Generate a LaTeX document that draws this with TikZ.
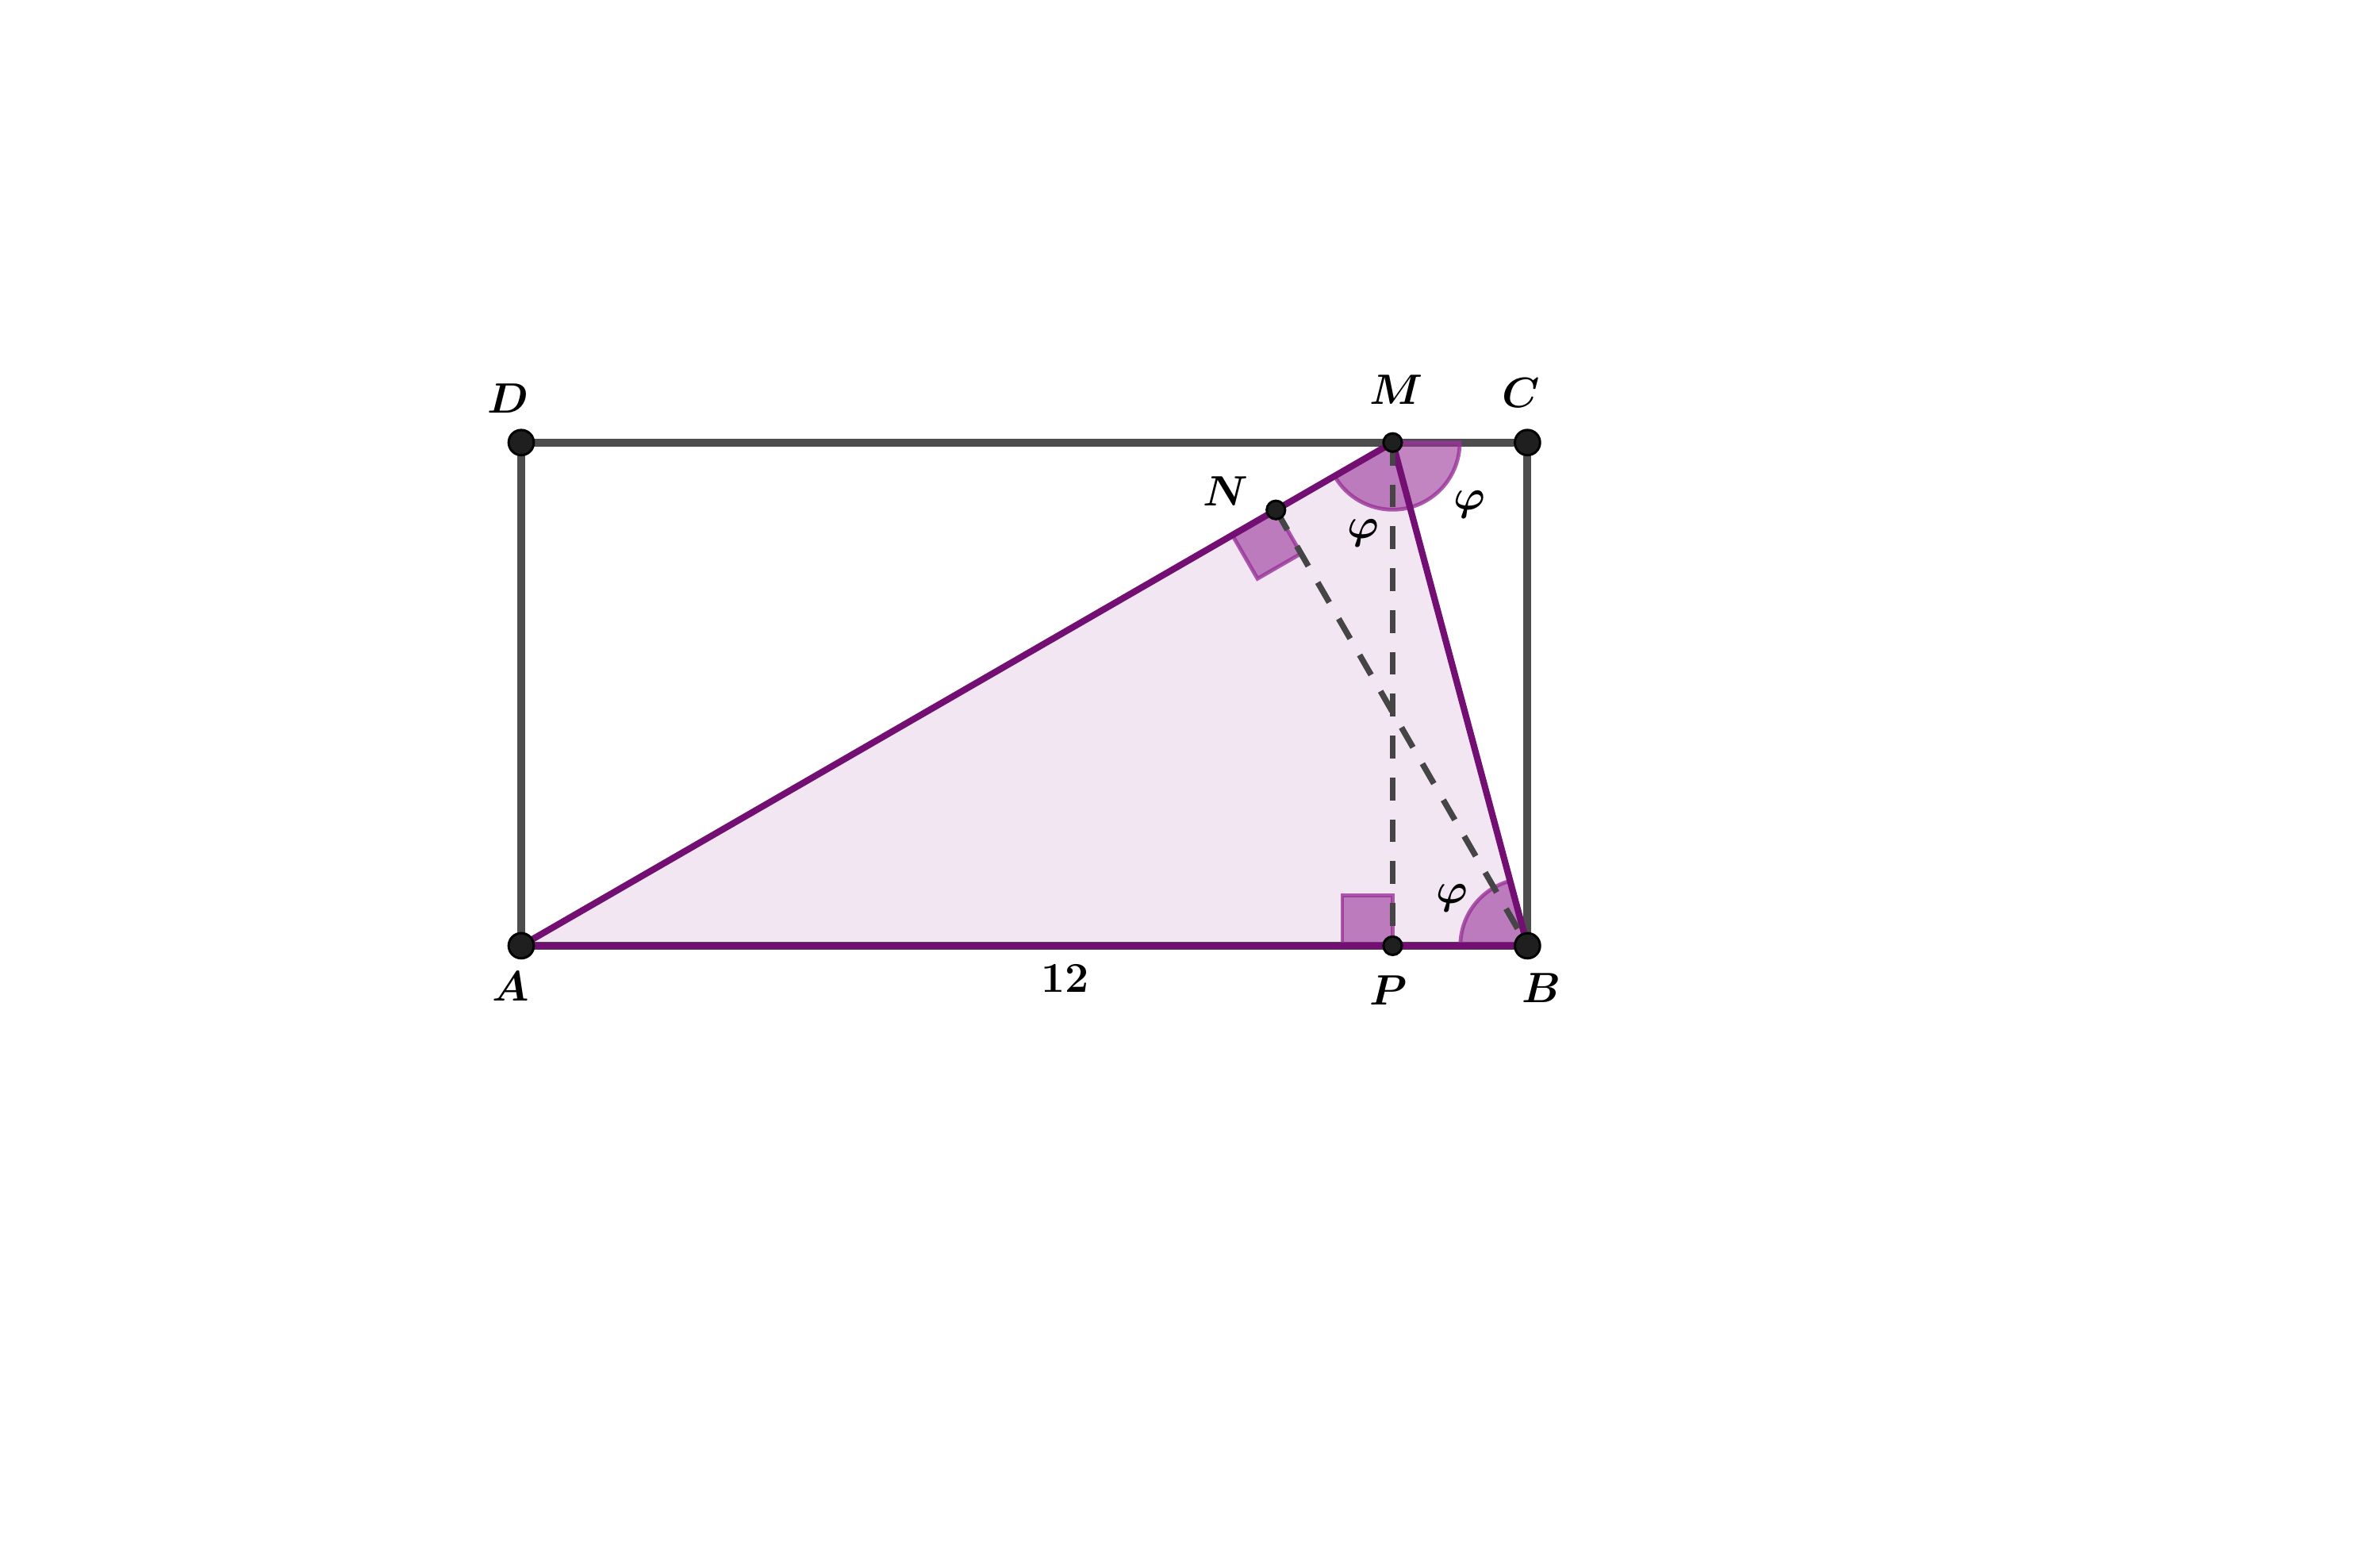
\documentclass[tikz,border=0pt]{standalone}
\usepackage{amsmath}
\usetikzlibrary{calc}
\definecolor{rectgray}{RGB}{77,77,77}
\definecolor{tripurple}{RGB}{115,14,115}
\definecolor{anglepurple}{RGB}{153,51,153}
\tikzset{
  rectline/.style={draw=rectgray,line width=2.7pt},
  triline/.style={draw=tripurple,line width=2.2pt},
  dashline/.style={draw=rectgray!90!black,line width=2pt,dash pattern=on 7.8pt off 6.4pt},
  anglemark/.style={fill=anglepurple,fill opacity=0.6,draw=anglepurple,draw opacity=0.8,line width=1.3pt},
  bigpt/.style={circle,fill=black!88,draw=black,line width=0.8pt,inner sep=0pt,minimum size=0.3cm},
  smallpt/.style={circle,fill=black!88,draw=black,line width=0.8pt,inner sep=0pt,minimum size=0.22cm},
  lbl/.style={font=\fontsize{14.5}{17}\selectfont,inner sep=0pt}
}
\begin{document}
\begin{tikzpicture}[x=1cm,y=1cm]
\useasboundingbox (-6.216,-7.228) rectangle (22.167,11.277);
\coordinate (A) at (0,0);
\coordinate (B) at (12,0);
\coordinate (C) at (12,6);
\coordinate (D) at (0,6);
\coordinate (M) at (10.3923,6);
\coordinate (N) at (9,5.19615);
\coordinate (P) at (10.3923,0);
% triangle fill
\fill[tripurple,fill opacity=0.1] (A) -- (B) -- (M) -- cycle;
% rectangle
\draw[rectline] (A) -- (B) -- (C) -- (D) -- cycle;
% angle marks
\draw[anglemark] (M) -- ++(-150:0.8) arc[start angle=-150,end angle=0,radius=0.8] -- cycle;
\draw[anglemark] (B) -- ++(180:0.8) arc[start angle=180,end angle=105,radius=0.8] -- cycle;
\draw[anglemark] (P) -- ++(-0.6,0) -- ++(0,0.6) -- ++(0.6,0) -- cycle;
\draw[anglemark] (N) -- ($(N)!0.6cm!(A)$) -- ($(N)!0.6cm!(A)+(0.3,-0.519615)$) -- ($(N)!0.6cm!(B)$) -- cycle;
% triangle edges
\draw[triline] (A) -- (B) -- (M) -- cycle;
% dashed
\draw[dashline] (M) -- (P);
\draw[dashline] (N) -- (B);
% points
\node[bigpt] (pA) at (A) {};
\node[bigpt] (pB) at (B) {};
\node[bigpt] (pC) at (C) {};
\node[bigpt] (pD) at (D) {};
\node[smallpt] (pM) at (M) {};
\node[smallpt] (pN) at (N) {};
\node[smallpt] (pP) at (P) {};
% labels
\node[lbl] (lA) at ($(A)+(-0.13,-0.48)$) {$\boldsymbol{A}$};
\node[lbl] (lB) at ($(B)+(0.17,-0.5)$) {$\boldsymbol{B}$};
\node[lbl] (lC) at ($(C)+(-0.08,0.59)$) {$\boldsymbol{C}$};
\node[lbl] (lD) at ($(D)+(-0.16,0.53)$) {$\boldsymbol{D}$};
\node[lbl] (lM) at ($(M)+(0.04,0.63)$) {$\boldsymbol{M}$};
\node[lbl] (lN) at ($(N)+(-0.6,0.22)$) {$\boldsymbol{N}$};
\node[lbl] (lP) at ($(P)+(-0.05,-0.53)$) {$\boldsymbol{P}$};
\node[lbl] (l12) at ($(A)+(6.49,-0.39)$) {$\boldsymbol{12}$};
\node[lbl] (phi1) at ($(M)+(-0.35,-1.08)$) {$\boldsymbol{\varphi}$};
\node[lbl] (phi2) at ($(M)+(0.92,-0.74)$) {$\boldsymbol{\varphi}$};
\node[lbl] (phi3) at ($(B)+(-0.9,0.57)$) {$\boldsymbol{\varphi}$};
\end{tikzpicture}
\end{document}
